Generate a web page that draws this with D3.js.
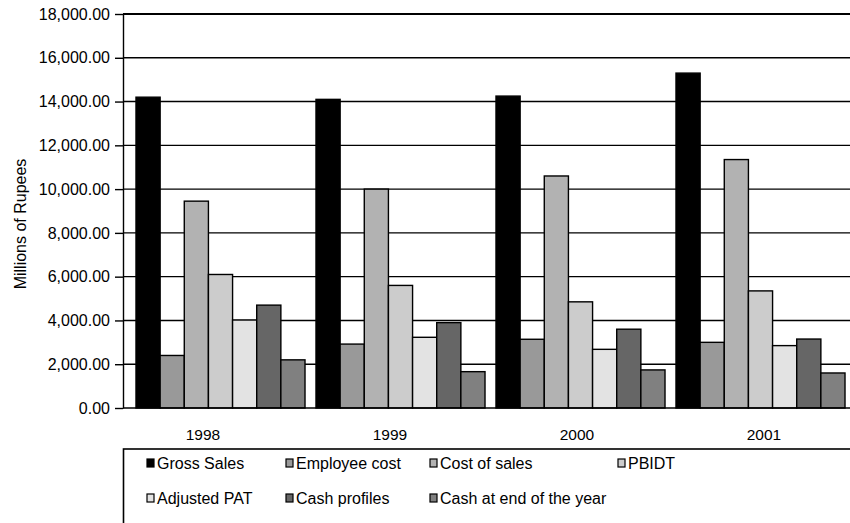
<!DOCTYPE html>
<html>
<head>
<meta charset="utf-8">
<script src="https://cdn.jsdelivr.net/npm/d3@7"></script>
<style>
  body { margin: 0; background: #fff; }
  text { font-family: "Liberation Sans", Arial, sans-serif; fill: #000; }
</style>
</head>
<body>
<div id="canvas"></div>
<script>
"use strict"

/* data */
let years = ["1998", "1999", "2000", "2001"];
let seriesNames = ["Gross Sales", "Employee cost", "Cost of sales", "PBIDT",
    "Adjusted PAT", "Cash profiles", "Cash at end of the year"];
let grossSales   = [14200, 14100, 14250, 15300];
let employeeCost = [2400, 2920, 3140, 3000];
let costOfSales  = [9450, 10000, 10600, 11350];
let pbidt        = [6100, 5600, 4850, 5350];
let adjustedPat  = [4020, 3230, 2680, 2850];
let cashProfiles = [4700, 3900, 3600, 3150];
let cashEnd      = [2200, 1660, 1740, 1600];
let yTicks = [0, 2000, 4000, 6000, 8000, 10000, 12000, 14000, 16000, 18000];

let allSeries = [grossSales, employeeCost, costOfSales, pbidt, adjustedPat, cashProfiles, cashEnd];
let colors = ["#000000", "#999999", "#b2b2b2", "#cccccc", "#e3e3e3", "#666666", "#808080"];

/* canvas */
let drawing = d3.select("#canvas")
    .append("svg")
    .attr("width", 850)
    .attr("height", 523);

/* scales */
let plotLeft = 123, plotTop = 14, plotBottom = 408;

let y = d3.scaleLinear()
    .domain([0, 18000])
    .range([plotBottom, plotTop]);

let x0 = d3.scaleBand()
    .domain(years)
    .range([130.5, 850.5])
    .paddingInner(0.061)
    .paddingOuter(0.0305);

let x1 = d3.scaleBand()
    .domain(seriesNames)
    .range([0, x0.bandwidth()]);

/* category labels sit a little off the bar groups in the original */
let xLabel = d3.scalePoint()
    .domain(years)
    .range([203, 764]);

/* gridlines */
drawing.append("g")
    .selectAll("line")
    .data(yTicks.slice(1))
    .join("line")
    .attr("x1", plotLeft)
    .attr("x2", 850)
    .attr("y1", d => y(d))
    .attr("y2", d => y(d))
    .attr("stroke", "#000")
    .attr("stroke-width", d => d === 18000 ? 2.2 : 1.4);

/* bars */
let groups = drawing.append("g")
    .selectAll("g")
    .data(years)
    .join("g")
    .attr("transform", d => "translate(" + x0(d) + ",0)");

groups.selectAll("rect")
    .data((yr, i) => seriesNames.map((name, s) => ({ name: name, s: s, value: allSeries[s][i] })))
    .join("rect")
    .attr("x", d => x1(d.name))
    .attr("y", d => y(d.value))
    .attr("width", x1.bandwidth())
    .attr("height", d => y(0) - y(d.value))
    .attr("fill", d => colors[d.s])
    .attr("stroke", "#000")
    .attr("stroke-width", 1.4);

/* y axis */
let yAxis = drawing.append("g")
    .attr("transform", "translate(" + plotLeft + ",0)")
    .call(d3.axisLeft(y)
        .tickValues(yTicks)
        .tickSize(8)
        .tickSizeOuter(0)
        .tickPadding(5)
        .tickFormat(d3.format(",.2f")));

yAxis.select(".domain").attr("stroke", "#000").attr("stroke-width", 1.4);
yAxis.selectAll(".tick line").attr("stroke", "#000").attr("stroke-width", 1.4);
yAxis.selectAll(".tick text")
    .attr("font-size", 16)
    .style("font-family", "'Liberation Sans', Arial, sans-serif")
    .attr("fill", "#000");

/* x axis base line */
drawing.append("line")
    .attr("x1", plotLeft)
    .attr("x2", 850)
    .attr("y1", y(0))
    .attr("y2", y(0))
    .attr("stroke", "#000")
    .attr("stroke-width", 1.6);

/* category labels */
drawing.append("g")
    .selectAll("text")
    .data(years)
    .join("text")
    .attr("x", d => xLabel(d))
    .attr("y", 440)
    .attr("text-anchor", "middle")
    .attr("font-size", 15.5)
    .text(d => d);

/* y axis title */
drawing.append("text")
    .attr("transform", "translate(26,224) rotate(-90)")
    .attr("text-anchor", "middle")
    .attr("font-size", 16)
    .text("Millions of Rupees");

/* legend */
let legendBox = drawing.append("rect")
    .attr("x", 123.5)
    .attr("y", 449)
    .attr("width", 800)
    .attr("height", 120)
    .attr("fill", "none")
    .attr("stroke", "#000")
    .attr("stroke-width", 1.6);

let legendX = [150, 289, 433, 621];
let legendY = [463, 498];

let legendItems = drawing.append("g")
    .selectAll("g")
    .data(seriesNames)
    .join("g")
    .attr("transform", (d, i) => "translate(" + legendX[i % 4] + "," + legendY[Math.floor(i / 4)] + ")");

legendItems.append("rect")
    .attr("x", -3)
    .attr("y", -4)
    .attr("width", 7)
    .attr("height", 8)
    .attr("fill", (d, i) => colors[i])
    .attr("stroke", "#000")
    .attr("stroke-width", 1.2);

legendItems.append("text")
    .attr("x", 7)
    .attr("y", 6)
    .attr("font-size", 16)
    .text(d => d);
</script>
</body>
</html>
